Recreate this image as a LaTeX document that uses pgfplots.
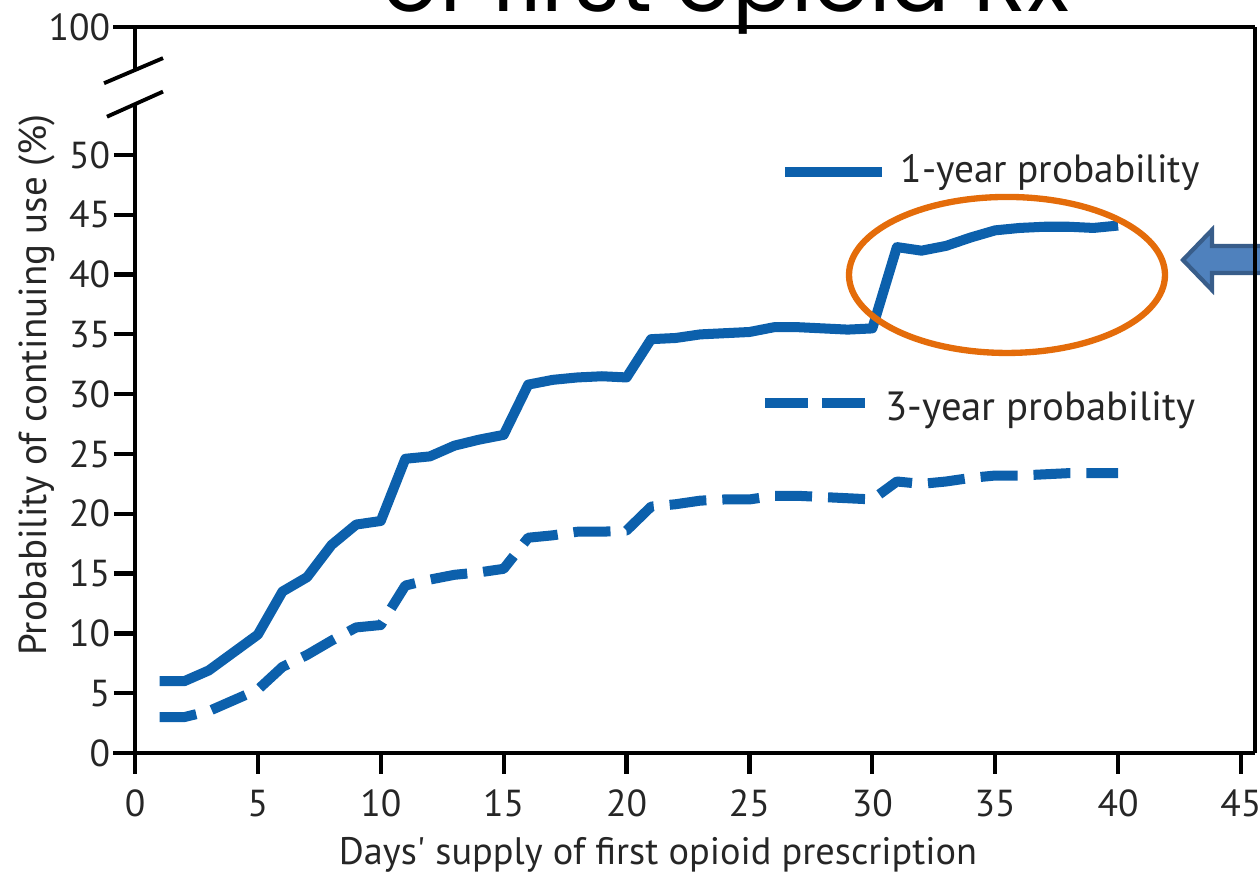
\documentclass[border=0pt]{standalone}
\usepackage{pgfplots}
\pgfplotsset{compat=1.18}
\usepackage{fontspec}
\setmainfont{PT Sans}
\newfontfamily\titlefont{Poppins}
\definecolor{lineblue}{RGB}{12,96,172}
\definecolor{ellorange}{RGB}{228,108,10}
\definecolor{arrowfill}{RGB}{79,129,189}
\definecolor{arrowedge}{RGB}{56,93,138}
\pgfplotstableread{
d one three
1 6.0 3.0
2 6.0 3.0
3 6.9 3.5
4 8.4 4.4
5 9.9 5.3
6 13.5 7.2
7 14.7 8.2
8 17.4 9.4
9 19.1 10.5
10 19.4 10.7
11 24.6 14.0
12 24.8 14.5
13 25.7 14.9
14 26.2 15.1
15 26.6 15.4
16 30.8 18.0
17 31.2 18.2
18 31.4 18.5
19 31.5 18.5
20 31.4 18.6
21 34.6 20.6
22 34.7 20.8
23 35.0 21.1
24 35.1 21.2
25 35.2 21.2
26 35.6 21.5
27 35.6 21.5
28 35.5 21.4
29 35.4 21.3
30 35.5 21.2
31 42.3 22.7
32 42.0 22.5
33 42.4 22.7
34 43.1 23.0
35 43.7 23.2
36 43.9 23.2
37 44.0 23.3
38 44.0 23.4
39 43.9 23.4
40 44.1 23.4
}\datatable
\begin{document}
\begin{tikzpicture}
\begin{axis}[
  at={(0,0)}, anchor=south west, scale only axis,
  width=11.2cm, height=7.26cm,
  xmin=0, xmax=45.57, ymin=0, ymax=60.7,
  clip=false,
  axis line style={draw=none},
  xtick={0,5,...,45}, xtick pos=bottom,
  ytick={0,5,...,50,60.7}, ytick pos=left,
  yticklabels={0,5,10,15,20,25,30,35,40,45,50,100},
  tick align=outside,
  major tick length=0.21cm,
  tick style={line width=1.2pt, black},
  /pgf/number format/assume math mode=true,
  ticklabel style={font=\fontsize{10.7}{12}\selectfont, text=black!85},
  xticklabel style={yshift=-1pt},
  yticklabel style={xshift=2.4pt},
]
% axis frame
\draw[line width=1.4pt] (axis cs:-0.895,0) -- (axis cs:45.57,0);
\draw[line width=1.4pt] (axis cs:0,0) -- (axis cs:0,54.3);
\draw[line width=1.4pt] (axis cs:0,57.1) -- (axis cs:0,60.7);
\draw[line width=1.4pt] (axis cs:-0.895,60.7) -- (axis cs:45.57,60.7);
% break marks
\draw[line width=1.1pt] (axis cs:-1.26,56.0) -- (axis cs:1.14,58.1);
\draw[line width=1.1pt] (axis cs:-1.14,53.2) -- (axis cs:1.14,55.3);
% data
\addplot[lineblue, line width=2.85pt, line join=round] table[x=d, y=one] {\datatable};
\addplot[lineblue, line width=2.85pt, line join=round, dash pattern=on 0.37cm off 0.16cm] table[x=d, y=three] {\datatable};
% legend
\draw[lineblue, line width=2.85pt] (axis cs:26.44,48.58) -- (axis cs:30.39,48.58);
\node[anchor=base west, inner sep=0pt, font=\fontsize{11.2}{13}\selectfont, text=black!85] at (axis cs:31.12,47.74) {1-year probability};
\draw[lineblue, line width=2.85pt] (axis cs:25.63,29.26) -- (axis cs:27.38,29.26);
\draw[lineblue, line width=2.85pt] (axis cs:27.95,29.26) -- (axis cs:29.70,29.26);
\node[anchor=base west, inner sep=0pt, font=\fontsize{11.6}{13}\selectfont, text=black!85] at (axis cs:30.51,27.84) {3-year probability};
% ellipse
\draw[ellorange, line width=1.8pt] (axis cs:35.48,39.97) ellipse [x radius=1.58cm, y radius=0.78cm];
% arrow
\filldraw[fill=arrowfill, draw=arrowedge, line width=1.2pt]
  (axis cs:42.64,41.22) -- (axis cs:43.82,43.73) -- (axis cs:43.82,42.39) -- (axis cs:46.8,42.39)
  -- (axis cs:46.8,40.13) -- (axis cs:43.82,40.13) -- (axis cs:43.82,38.71) -- cycle;
\draw[line width=1.4pt] (axis cs:45.57,0) -- (axis cs:45.57,60.7);
% title (cut off at top)
\node[anchor=base west, inner sep=0pt, font=\titlefont\fontsize{25}{28}\selectfont] at (axis cs:10.05,61.96) {of first opioid Rx};
\end{axis}
\node[rotate=90, font=\fontsize{11.1}{13}\selectfont, text=black!85] at (-0.98,3.68) {Probability of continuing use (\%)};
\node[anchor=base, font=\fontsize{10.9}{12}\selectfont, text=black!85, inner sep=0pt] at (5.23,-1.12) {Days\textquotesingle{} supply of first opioid prescription};
\pgfresetboundingbox
\useasboundingbox (-1.35,-1.21) rectangle (11.25,7.53);
\end{tikzpicture}
\end{document}
